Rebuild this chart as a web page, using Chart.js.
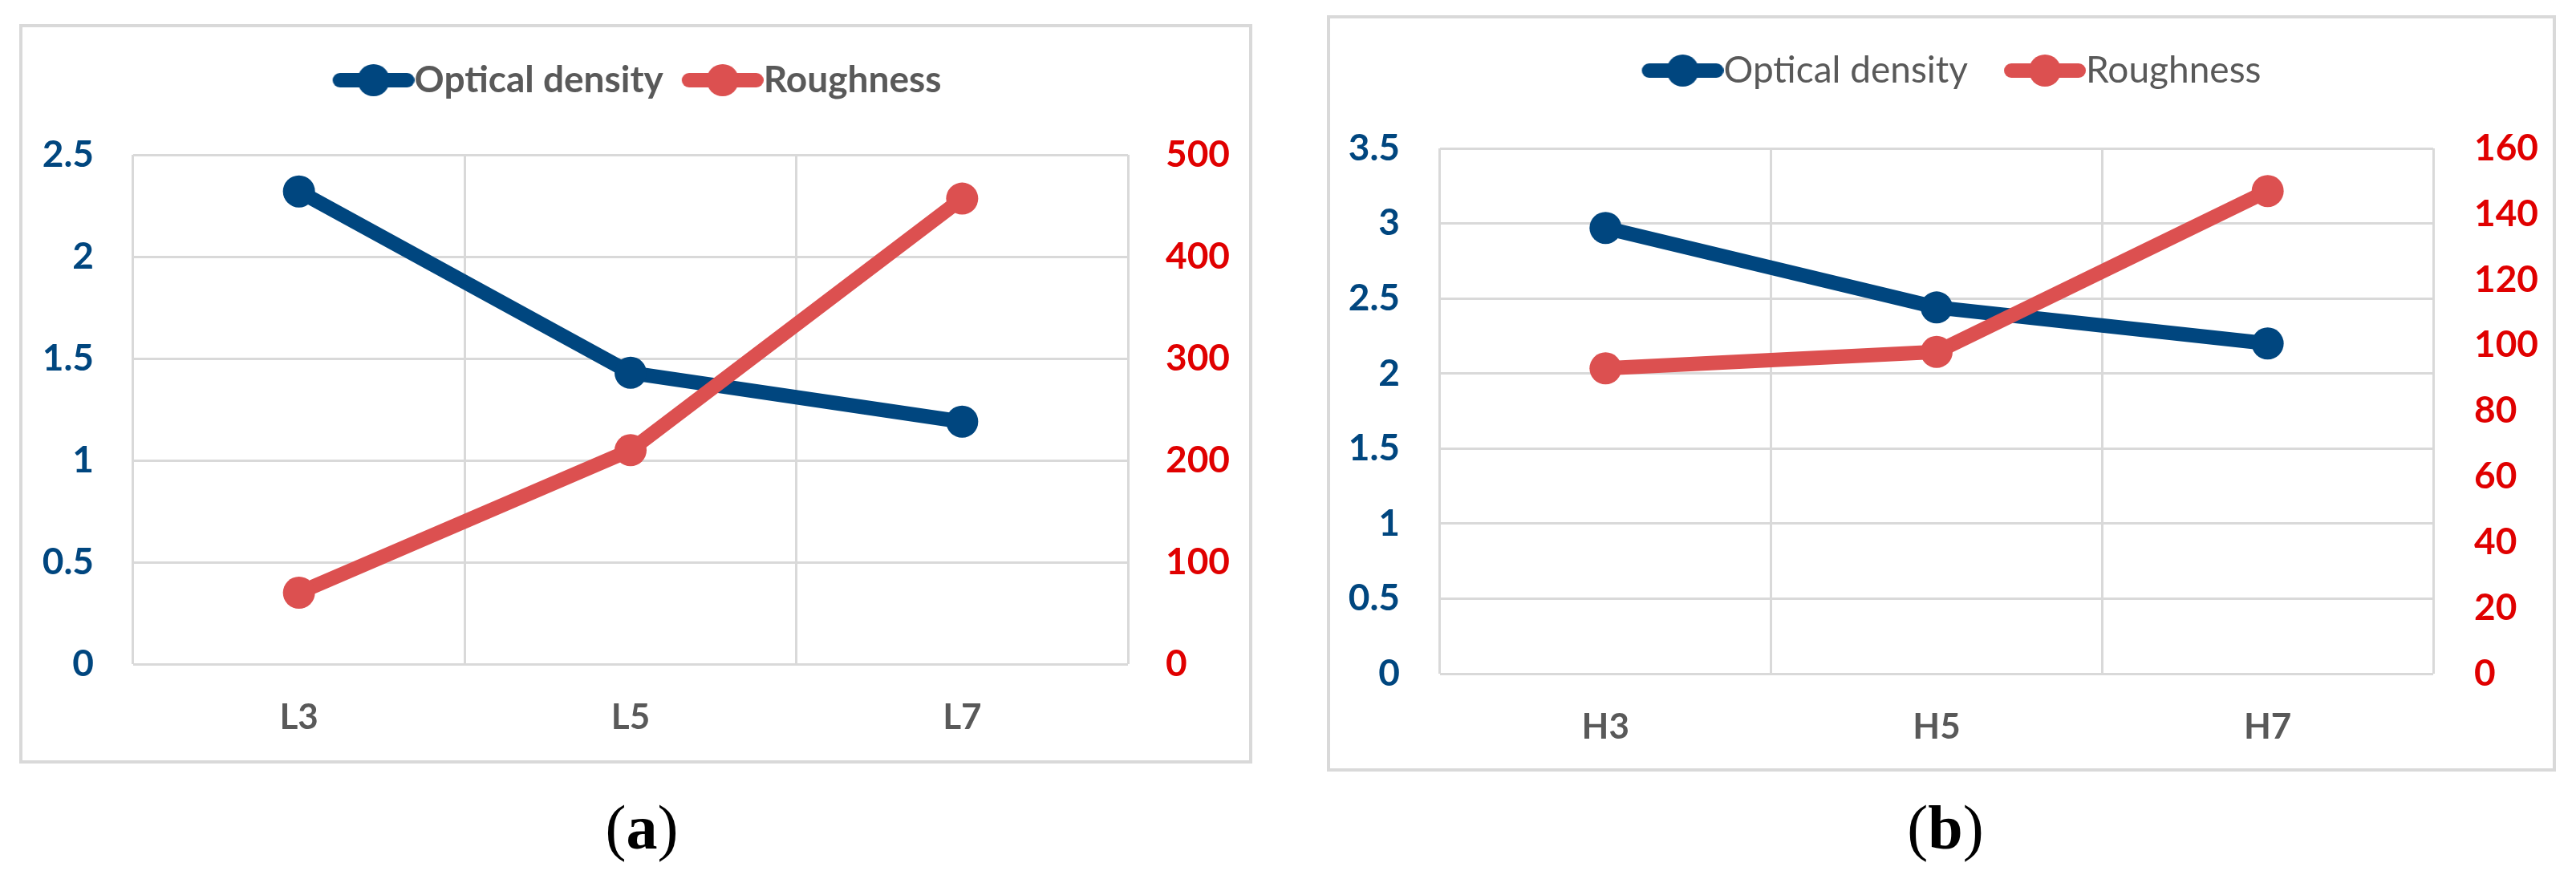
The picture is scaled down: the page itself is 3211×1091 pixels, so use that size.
<!DOCTYPE html>
<html>
<head>
<meta charset="utf-8">
<script src="https://cdn.jsdelivr.net/npm/chart.js@4.4.1/dist/chart.umd.min.js"></script>
<style>
  html, body { margin: 0; padding: 0; background: #fff; }
  body { width: 3211px; height: 1091px; position: relative; overflow: hidden; }
  .frame { position: absolute; box-sizing: border-box; border: 4px solid #d9d9d9; background: #fff; }
  .frame canvas { display: block; }
  .caption { position: absolute; width: 300px; text-align: center; font-family: "Liberation Serif", "Times New Roman", serif; font-size: 78px; line-height: 78px; color: #000; }
</style>
</head>
<body>
<div class="frame" style="left:24px; top:30px; width:1537px; height:922px;">
  <canvas id="chartA" width="1529" height="914"></canvas>
</div>
<div class="caption" style="left:650px; top:993px;">(<b>a</b>)</div>
<div class="frame" style="left:1654px; top:19px; width:1532px; height:943px;">
  <canvas id="chartB" width="1524" height="935"></canvas>
</div>
<div class="caption" style="left:2275px; top:993px;">(<b>b</b>)</div>
<script>
// Panel (a) data
const labelsA = ['L3', 'L5', 'L7'];
const densityA = [2.32, 1.43, 1.19];
const roughnessA = [70, 210, 457];
const leftTicksA = ['0', '0.5', '1', '1.5', '2', '2.5'];
const rightTicksA = ['0', '100', '200', '300', '400', '500'];

// Panel (b) data
const labelsB = ['H3', 'H5', 'H7'];
const densityB = [2.97, 2.44, 2.20];
const roughnessB = [93, 98, 147];
const leftTicksB = ['0', '0.5', '1', '1.5', '2', '2.5', '3', '3.5'];
const rightTicksB = ['0', '20', '40', '60', '80', '100', '120', '140', '160'];

const BLUE = '#00467f';
const RED = '#dc5050';
const RED_TEXT = '#e00000';
const GREY = '#595959';
const GRID = '#d9d9d9';
const LEGEND_SIZE = 46;

Chart.defaults.font.family = 'Lato';

// legend marker: thick line with a dot, like the Excel legend.
// the visible part sits at the right end of the image so it touches the text
function legendMarker(color, width) {
  const c = document.createElement('canvas');
  c.width = width;
  c.height = 44;
  const g = c.getContext('2d');
  g.strokeStyle = color;
  g.lineWidth = 18;
  g.lineCap = 'round';
  g.beginPath();
  g.moveTo(width - 102 + 9, 22);
  g.lineTo(width - 9, 22);
  g.stroke();
  g.fillStyle = color;
  g.beginPath();
  g.arc(width - 51, 22, 20, 0, Math.PI * 2);
  g.fill();
  return c;
}

function makeChart(id, p) {
  const ctx = document.getElementById(id).getContext('2d');
  const markers = [
    legendMarker(BLUE, p.boxWidth + LEGEND_SIZE),
    legendMarker(RED, p.boxWidth + LEGEND_SIZE)
  ];
  return new Chart(ctx, {
    type: 'line',
    data: {
      labels: p.labels,
      datasets: [{
        label: 'Optical density',
        data: p.density,
        yAxisID: 'y',
        borderColor: BLUE,
        backgroundColor: BLUE,
        pointBackgroundColor: BLUE,
        borderWidth: 18,
        pointRadius: 20,
        pointHoverRadius: 20,
        pointBorderWidth: 0,
        borderCapStyle: 'round',
        borderJoinStyle: 'round',
        tension: 0,
        order: 1
      }, {
        label: 'Roughness',
        data: p.roughness,
        yAxisID: 'y1',
        borderColor: RED,
        backgroundColor: RED,
        pointBackgroundColor: RED,
        borderWidth: 18,
        pointRadius: 20,
        pointHoverRadius: 20,
        pointBorderWidth: 0,
        borderCapStyle: 'round',
        borderJoinStyle: 'round',
        tension: 0,
        order: 0
      }]
    },
    options: {
      responsive: false,
      animation: false,
      devicePixelRatio: 1,
      layout: { padding: { top: p.padTop, left: 0, right: 0, bottom: 0 } },
      plugins: {
        tooltip: { enabled: false },
        legend: {
          position: 'top',
          weight: 1000,
          labels: {
            usePointStyle: true,
            pointStyleWidth: p.boxWidth,
            padding: 20,
            color: GREY,
            font: { size: LEGEND_SIZE, weight: p.legendWeight },
            sort: (a, b) => a.datasetIndex - b.datasetIndex,
            generateLabels(chart) {
              const items = Chart.defaults.plugins.legend.labels.generateLabels(chart);
              items.forEach(it => { it.pointStyle = markers[it.datasetIndex]; });
              return items;
            }
          }
        },
        // empty title used as spacer between legend and plot
        title: {
          display: true,
          text: '',
          weight: 500,
          font: { size: 1, lineHeight: 1 },
          padding: { top: p.spacer - 1, bottom: 0 }
        }
      },
      scales: {
        x: {
          offset: true,
          grid: { offset: true, color: GRID, lineWidth: 3, drawTicks: false },
          border: { display: false },
          ticks: { color: GREY, font: { size: 44, weight: 'bold' }, padding: 40 },
          afterFit(s) { s.height = p.xHeight; }
        },
        y: {
          position: 'left',
          min: 0,
          max: p.leftMax,
          grid: { color: GRID, lineWidth: 3, drawTicks: false },
          border: { display: false },
          ticks: {
            stepSize: 0.5,
            color: BLUE,
            font: { size: 46, weight: 'bold' },
            padding: p.leftPad,
            callback: (v, i) => p.leftTicks[i]
          },
          afterFit(s) { s.width = p.leftWidth; }
        },
        y1: {
          position: 'right',
          min: 0,
          max: p.rightMax,
          grid: { display: false, drawTicks: false },
          border: { display: false },
          ticks: {
            stepSize: p.rightStep,
            color: RED_TEXT,
            font: { size: 46, weight: 'bold' },
            padding: p.rightPad,
            callback: (v, i) => p.rightTicks[i]
          },
          afterFit(s) { s.width = p.rightWidth; }
        }
      }
    }
  });
}

makeChart('chartA', {
  labels: labelsA, density: densityA, roughness: roughnessA,
  leftTicks: leftTicksA, rightTicks: rightTicksA,
  leftMax: 2.5, rightMax: 500, rightStep: 100,
  legendWeight: 'bold', boxWidth: 82,
  padTop: 23, spacer: 60, xHeight: 120,
  leftWidth: 138, leftPad: 49, rightWidth: 151, rightPad: 47
});

makeChart('chartB', {
  labels: labelsB, density: densityB, roughness: roughnessB,
  leftTicks: leftTicksB, rightTicks: rightTicksB,
  leftMax: 3.5, rightMax: 160, rightStep: 20,
  legendWeight: 'normal', boxWidth: 104,
  padTop: 22, spacer: 64, xHeight: 118,
  leftWidth: 137, leftPad: 50, rightWidth: 149, rightPad: 51
});
</script>
</body>
</html>
